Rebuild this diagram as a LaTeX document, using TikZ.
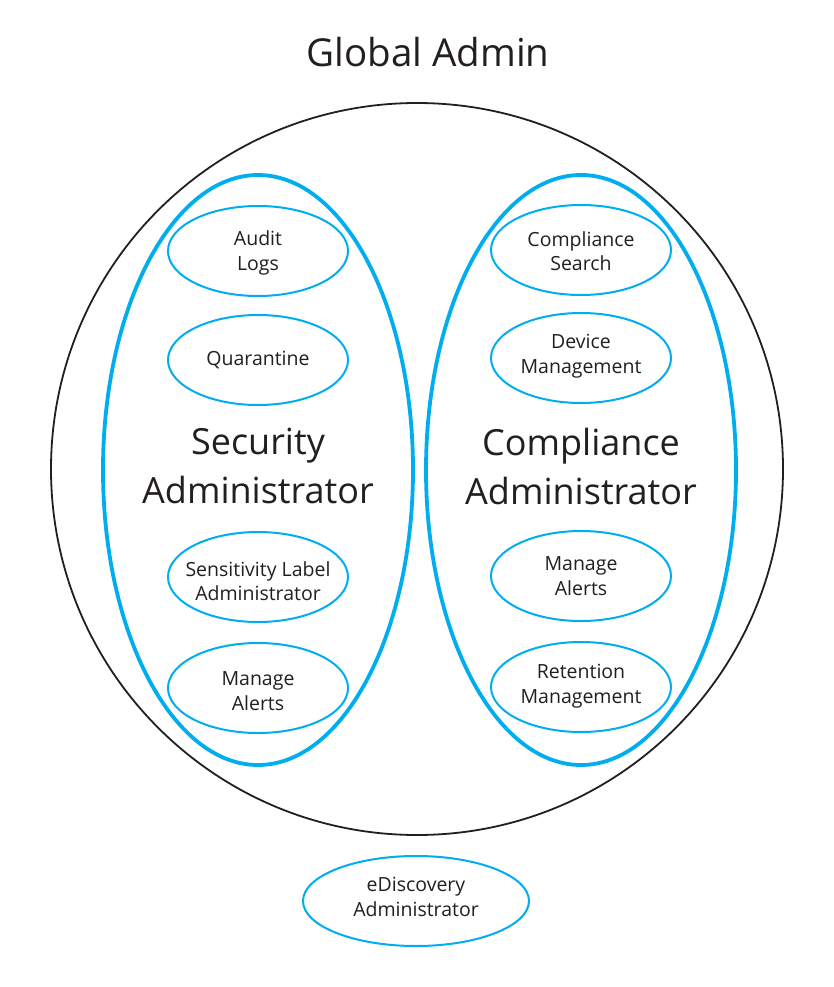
\documentclass[tikz,border=0pt]{standalone}
\usepackage{fontspec}
\setmainfont{Open Sans}
\usetikzlibrary{shapes.geometric}
\definecolor{cyanb}{HTML}{00AEEF}
\definecolor{ink}{HTML}{231F20}
\tikzset{
  outer/.style={draw=ink, line width=1.8pt},
  group/.style={draw=cyanb, line width=3.8pt},
  role/.style={draw=cyanb, line width=2pt},
  lbl/.style={text=ink, align=center, font=\fontsize{19.5}{24.5}\selectfont},
  big/.style={text=ink, align=center, font=\fontsize{36}{49}\selectfont},
}
\begin{document}
\begin{tikzpicture}[x=1pt,y=-1pt]
\useasboundingbox (0,0) rectangle (833,987);
\fill[white] (0,0) rectangle (833,987);
\node[big, font=\fontsize{38.5}{45}\selectfont] (title) at (428,52) {Global Admin};
\draw[outer] (417,469) circle[radius=366];
\draw[group] (258,470) ellipse[x radius=155, y radius=295];
\draw[group] (581,470) ellipse[x radius=155, y radius=295];
\node[big] (sec) at (258,466) {Security\\Administrator};
\node[big] (comp) at (581,466) {Compliance\\Administrator};
% left roles
\draw[role] (258,251) ellipse[x radius=90, y radius=45];
\node[lbl] (audit) at (258,253) {Audit\\Logs};
\draw[role] (258,360) ellipse[x radius=90, y radius=45];
\node[lbl] (quar) at (258,360) {Quarantine};
\draw[role] (258,577) ellipse[x radius=90, y radius=45];
\node[lbl] (sens) at (258,581) {Sensitivity Label\\Administrator};
\draw[role] (258,688) ellipse[x radius=90, y radius=45];
\node[lbl] (mal) at (258,691) {Manage\\Alerts};
% right roles
\draw[role] (581,250) ellipse[x radius=90, y radius=45];
\node[lbl] (cs) at (581,251) {Compliance\\Search};
\draw[role] (581,358) ellipse[x radius=90, y radius=45];
\node[lbl] (dm) at (581,356) {Device\\Management};
\draw[role] (581,576) ellipse[x radius=90, y radius=45];
\node[lbl] (mar) at (581,576) {Manage\\Alerts};
\draw[role] (581,687) ellipse[x radius=90, y radius=45];
\node[lbl] (rm) at (581,686) {Retention\\Management};
% eDiscovery
\draw[role] (416,901) ellipse[x radius=113, y radius=45];
\node[lbl] (ed) at (416,897) {eDiscovery\\Administrator};
\end{tikzpicture}
\end{document}
